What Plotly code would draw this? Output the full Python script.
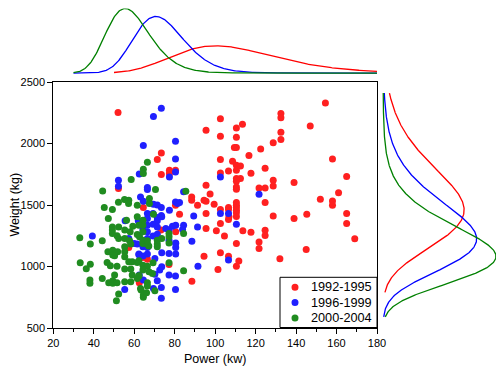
import numpy as np
import plotly.graph_objects as go

# ---------------- data ----------------
series_names = ["1992-1995", "1996-1999", "2000-2004"]

red_power = [52, 73.4, 71.4, 77.4, 77.4, 80.4, 73.4, 52.2, 64.5, 80.4, 82.4, 88.4, 88.4, 91.3,
             154.5, 132.5, 132.5, 102.6, 113.5, 110.5, 147, 95.5, 132.5, 102.6, 110.5, 132.5,
             128.7, 109.5, 110.5, 122.5, 116.7, 102.6, 108.6, 110.5, 112.5, 110.5, 158, 124.7,
             106.6, 102.6, 117.7, 165, 110.5, 112.5, 110.5, 128.7, 128.7, 139, 95.5, 110.5,
             110.5, 121.7, 124.7, 97.5, 161, 94.5, 95.5, 99.5, 152, 158, 158, 124.7, 110.5,
             110.5, 110.5, 110.5, 110.5, 106.6, 106.6, 102.6, 95.5, 106.8, 128.7, 139, 145.3,
             165, 165, 102.6, 106.6, 110.5, 95.5, 100.6, 104.6, 113.7, 117.7, 124.7, 124.7,
             121.7, 121.7, 110.5, 102.6, 106.6, 111.7, 110.5, 94.5, 101.4, 88.5, 132, 145,
             169, 57.3, 62.5, 77.2, 64.3, 66.5, 73.2, 80.5]
red_weight = [2253, 1923, 1869, 1782, 1756, 1782, 1747, 1634, 1480, 1498, 1425, 1566, 1539, 1498,
              2329, 2243, 2210, 2202, 2156, 2126, 2142, 2107, 2091, 2058, 2050, 2032,
              2007, 1967, 1967, 1955, 1902, 1869, 1855, 1823, 1817, 1782, 1875, 1799,
              1777, 1761, 1758, 1731, 1715, 1715, 1693, 1701, 1655, 1683, 1661, 1647,
              1628, 1639, 1639, 1590, 1599, 1539, 1531, 1506, 1547, 1533, 1498, 1520, 1520,
              1498, 1480, 1458, 1436, 1480, 1463, 1463, 1431, 1404, 1411, 1390, 1425,
              1431, 1350, 1350, 1382, 1406, 1309, 1290, 1247, 1290, 1279, 1295, 1252,
              1200, 1147, 1187, 1111, 1084, 1044, 1003, 1084, 976, 881, 1063, 1139,
              1225, 1155, 868, 1017, 1074, 1058, 1296, 1282]

blue_power = [69.5, 73.4, 64.5, 80.4, 80.4, 80.4, 77.4, 62.5, 52.2, 52.2, 66.5, 66.5, 84.4, 63.1,
              64.5, 66.5, 69.5, 71.4, 73.4, 73.4, 77.4, 80.4, 81.4, 82.4, 89.4, 102.6, 121.7,
              102.6, 106.6, 84.4, 91.3, 110.5, 88.5, 106.6, 91.5, 55.5, 39.3, 57.3, 60, 61.5,
              62.3, 55.3, 69.5, 73.4, 73.4, 80.4, 80.4, 77.2, 71.4, 62.5, 64.5, 64.3, 66.5,
              62.3, 66.5, 64.3, 70.2, 73.6, 77.2, 80.5, 77.2, 80.5, 80.5, 70.2, 72.6, 73.6,
              73.6, 66.5, 69.3, 71.4, 71.4, 62, 66.5, 69.3, 71.4, 75.6, 77.2, 78.9, 80.5,
              83.9, 64.3, 66.5, 62.3, 66.5, 69.3, 71.4, 80.5]
blue_weight = [2220, 2286, 1983, 2018, 1875, 1769, 1728, 1752, 1701, 1653, 1642, 1626, 1607, 1566,
               1531, 1431, 1506, 1500, 1480, 1415, 1458, 1525, 1512, 1520, 1411, 1728, 1588,
               1431, 1431, 1336, 1322, 1344, 1205, 1052, 1003, 1371, 1247, 1228, 1187, 1182,
               1095, 814, 822, 741, 830, 814, 922, 930, 884, 930, 890, 1160, 1155,
               1101, 1101, 1085, 1066, 1111, 1106, 1101, 1214, 1187, 1155, 938, 971, 998,
               1404, 1390, 1431, 1399, 1371, 1371, 1336, 1344, 1322, 1309, 1296, 1328, 1336,
               1301, 1301, 1282, 1255, 1228, 1247, 1263, 1192]

green_power = [66.5, 64.5, 64.5, 58.5, 44.4, 70.5, 85.5, 55.2, 57.3, 52.2, 57.2, 45.2, 49.2, 47.2,
               61.5, 67.5, 67.5, 69.5, 61.5, 56.2, 59.3, 52.3, 49.2, 49.2, 49.2, 55.3, 58,
               61.5, 51.5, 52.3, 33.1, 44.2, 38.3, 55.3, 57.7, 62.6, 47, 49.4, 49.4, 51.8,
               50.3, 55.3, 55.3, 55.3, 58.3, 57.3, 59, 61.5, 46.6, 48.2, 51.5, 55.3, 58.3,
               33.3, 38.3, 36.3, 50.3, 62.3, 61.5, 44.2, 38.1, 38.1, 47.4, 49.4, 49.4, 51.5,
               55.3, 58.3, 52.3, 51.2, 63.1, 64.5, 64.5, 66.1, 84.4, 77.2, 84.4, 64.3, 66.5,
               67.2, 71.4, 71.4, 62.3, 64.3, 66.5, 69.3, 64.3, 67.3, 69, 62.3, 66.5, 66.5,
               63.4, 70.2, 64.3, 64.3, 62.3, 64.3, 64.3, 66.5, 71.4, 73.6, 77.2, 77.2, 77.2, 59]
green_weight = [1847, 1790, 1756, 1707, 1614, 1626, 1612, 1545, 1539, 1523, 1512, 1480, 1463, 1390,
                1498, 1553, 1512, 1425, 1404, 1377, 1328, 1322, 1322, 1296, 1269, 1296, 1282,
                1261, 1249, 1228, 1233, 1209, 1182, 1228, 1209, 1241, 1119, 1133, 1093, 1119,
                1087, 1160, 1119, 1079, 1182, 1038, 1038, 1033, 1033, 1006, 1003, 979, 979,
                1030, 1019, 981, 930, 925, 903, 903, 890, 863, 868, 884, 863, 868,
                876, 876, 776, 722, 822, 749, 768, 787, 965, 1030, 1269, 1187, 1182,
                1166, 1182, 1160, 1046, 1011, 1003, 1030, 971, 957, 944, 922, 868, 841,
                808, 803, 1377, 1336, 1336, 1282, 1214, 1209, 1214, 1228, 1192, 1269, 1241, 930]

# ranges over which the fitted marginal curves are drawn
top_curve_start = [50, 30, 30]
top_curve_end = 180
right_curve_start = [790, 590, 590]
right_curve_end = 2410

x_title = "Power (kw)"
y_title = "Weight (kg)"

# ---------------- styles ----------------
marker_colors = ["rgb(255,32,32)", "rgb(32,32,255)", "rgb(32,140,32)"]
line_colors = ["rgb(255,0,0)", "rgb(0,0,255)", "rgb(0,128,0)"]
FONT = "Liberation Sans, Arial, sans-serif"

powers = [red_power, blue_power, green_power]
weights = [red_weight, blue_weight, green_weight]


def lognorm_fit_pdf(values, grid):
    logs = np.log(np.asarray(values, dtype=float))
    mu, s = logs.mean(), logs.std()
    g = np.asarray(grid, dtype=float)
    return np.exp(-(np.log(g) - mu) ** 2 / (2 * s * s)) / (g * s * np.sqrt(2 * np.pi))


fig = go.Figure()

# main scatter
for name, px_, wt, col in zip(series_names, powers, weights, marker_colors):
    fig.add_trace(go.Scatter(x=px_, y=wt, mode="markers", name=name, showlegend=False,
                             marker=dict(size=7, color=col, line=dict(width=0)),
                             xaxis="x", yaxis="y"))

# top marginal (power)
top_max = 0
for i, (px_, col) in enumerate(zip(powers, line_colors)):
    g = np.linspace(top_curve_start[i], top_curve_end, 400)
    d = lognorm_fit_pdf(px_, g)
    top_max = max(top_max, d.max())
    fig.add_trace(go.Scatter(x=g, y=d, mode="lines", line=dict(color=col, width=1.3),
                             showlegend=False, hoverinfo="skip", xaxis="x2", yaxis="y2"))

# right marginal (weight)
right_max = 0
for i, (wt, col) in enumerate(zip(weights, line_colors)):
    g = np.linspace(right_curve_start[i], right_curve_end, 400)
    d = lognorm_fit_pdf(wt, g)
    right_max = max(right_max, d.max())
    fig.add_trace(go.Scatter(x=d, y=g, mode="lines", line=dict(color=col, width=1.3),
                             showlegend=False, hoverinfo="skip", xaxis="x3", yaxis="y3"))

W, H = 501, 371
x_dom = [53.3 / W, 377 / W]
y_dom = [1 - 328 / H, 1 - 82 / H]

axis_common = dict(showline=True, linecolor="black", linewidth=1, mirror=True,
                   ticks="outside", ticklen=5, tickwidth=1, tickcolor="black",
                   showgrid=False, zeroline=False, automargin=False,
                   tickfont=dict(family=FONT, size=11, color="black"),
                   minor=dict(ticks="outside", ticklen=3, tickcolor="black", nticks=2))

# legend drawn as a framed box in paper coordinates
shapes = [dict(type="rect", xref="paper", yref="paper",
               x0=280 / W, x1=377 / W, y0=1 - 327.5 / H, y1=1 - 277.3 / H,
               line=dict(color="black", width=1), fillcolor="white", layer="above")]
annotations = []
row_y = [287.3, 302.6, 318]
for name, col, ry in zip(series_names, marker_colors, row_y):
    shapes.append(dict(type="circle", xref="paper", yref="paper",
                       x0=(295 - 3.5) / W, x1=(295 + 3.5) / W,
                       y0=1 - (ry + 3.5) / H, y1=1 - (ry - 3.5) / H,
                       fillcolor=col, line=dict(width=0), layer="above"))
    annotations.append(dict(x=308.5 / W, y=1 - ry / H, xref="paper", yref="paper",
                            text=name, showarrow=False, xanchor="left", yanchor="middle",
                            font=dict(family=FONT, size=12.7, color="black")))

# y axis title placed explicitly
annotations.append(dict(x=14.5 / W, y=1 - 205 / H, xref="paper", yref="paper",
                        text=y_title, textangle=-90, showarrow=False,
                        xanchor="center", yanchor="middle",
                        font=dict(family=FONT, size=12.5, color="black")))

fig.update_layout(
    width=W, height=H,
    margin=dict(l=0, r=0, t=0, b=0),
    paper_bgcolor="white", plot_bgcolor="white",
    font=dict(family=FONT, color="black"),
    xaxis=dict(domain=x_dom, range=[20, 180], dtick=20, anchor="y",
               title=dict(text=x_title, font=dict(family=FONT, size=12.5), standoff=6),
               **axis_common),
    yaxis=dict(domain=y_dom, range=[500, 2500], dtick=500, anchor="x",
               **axis_common),
    xaxis2=dict(domain=x_dom, range=[20, 180], visible=False, anchor="y2"),
    yaxis2=dict(domain=[1 - 74 / H, 1 - 8.5 / H], range=[-0.015 * top_max, top_max],
                visible=False, anchor="x2"),
    xaxis3=dict(domain=[382 / W, 496 / W], range=[-0.01 * right_max, right_max],
                visible=False, anchor="y3"),
    yaxis3=dict(domain=y_dom, range=[500, 2500], visible=False, anchor="x3"),
    shapes=shapes,
    annotations=annotations,
    showlegend=False,
)

fig.write_html("out.html", config={"displayModeBar": False},
               post_script="document.body.style.margin='0';document.body.style.overflow='hidden';")
